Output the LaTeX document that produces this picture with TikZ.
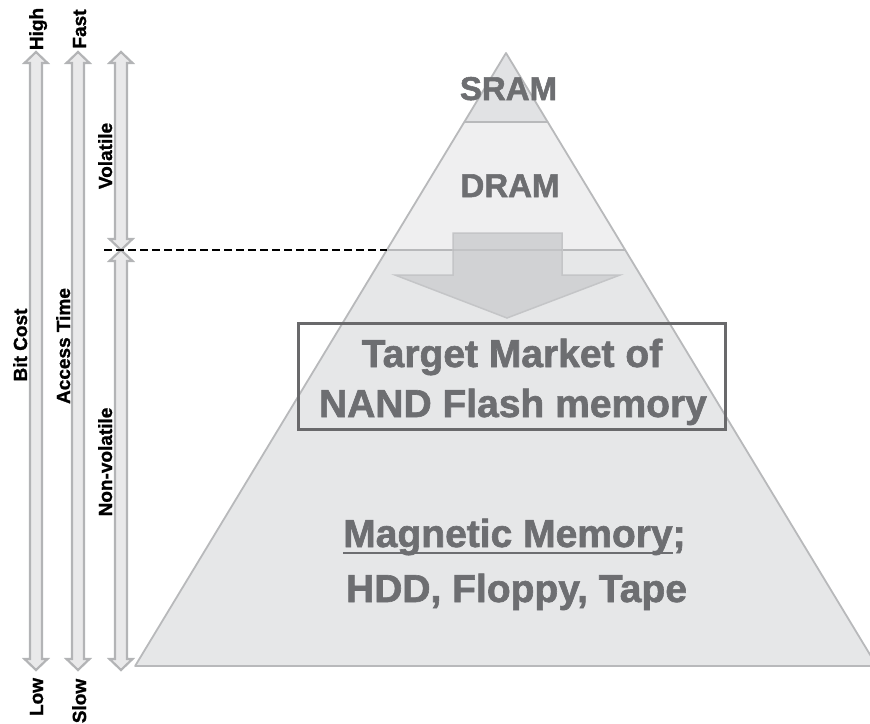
\documentclass[tikz,border=0pt]{standalone}
\usepackage{fontspec}
\setmainfont{Liberation Sans}
\newfontfamily\heavyfont{Liberation Sans Bold}[FakeBold=1.6]
\newfontfamily\lblfont{Liberation Sans Bold}[FakeBold=1.2]
\definecolor{tgray}{HTML}{6D6E71}
\definecolor{pedge}{HTML}{B8B9BB}
\definecolor{sramfill}{HTML}{E1E2E4}
\definecolor{dramfill}{HTML}{EFEFF0}
\definecolor{lowfill}{HTML}{E6E7E8}
\definecolor{arrfill}{HTML}{D1D2D4}
\definecolor{arredge}{HTML}{C4C5C7}
\definecolor{lfill}{HTML}{E9E9EA}
\definecolor{ledge}{HTML}{B3B4B6}
\definecolor{boxedge}{HTML}{69696B}
\newsavebox\myulbox
\newcommand\myul[1]{\sbox\myulbox{#1}\rlap{\rule[-7pt]{\wd\myulbox}{2pt}}\usebox\myulbox}
\newcommand\dbarrow[3]{%
 \draw[larr] (#1,#2) -- ({#1+11.5},{#2+11}) -- ({#1+6},{#2+11}) -- ({#1+6},{#3-11}) -- ({#1+11.5},{#3-11}) -- (#1,#3) -- ({#1-11.5},{#3-11}) -- ({#1-6},{#3-11}) -- ({#1-6},{#2+11}) -- ({#1-11.5},{#2+11}) -- cycle;}
\begin{document}
\begin{tikzpicture}[x=1pt,y=-1pt,
  lbl/.style={font=\lblfont\fontsize{19}{19}\selectfont, text=black, inner sep=0pt, rotate=90, anchor=base},
  big/.style={font=\heavyfont\fontsize{39}{39}\selectfont, text=tgray, inner sep=0pt, anchor=base},
  mid/.style={font=\heavyfont\fontsize{33}{33}\selectfont, text=tgray, inner sep=0pt, anchor=base},
  larr/.style={fill=lfill, draw=ledge, line width=2.2pt, line join=miter},
  band/.style={draw=pedge, line width=1.8pt, line join=round},
  bigarrow/.style={fill=arrfill, draw=arredge, line width=1.5pt, line join=miter}]
\useasboundingbox (0,0) rectangle (870,723);
\clip (0,0) rectangle (870,723);
% pyramid
\coordinate (apex) at (506,53);
\coordinate (sl) at (464.3,122);
\coordinate (sr) at (547.7,122);
\coordinate (dl) at (386.8,250);
\coordinate (dr) at (625.2,250);
\coordinate (bl) at (135.1,666);
\coordinate (br) at (876.9,666);
\path[band, fill=lowfill] (dl) -- (dr) -- (br) -- (bl) -- cycle;
\path[band, fill=dramfill] (sl) -- (sr) -- (dr) -- (dl) -- cycle;
\path[band, fill=sramfill] (apex) -- (sr) -- (sl) -- cycle;
% big down arrow
\draw[bigarrow] (453,233) -- (562,233) -- (562,275) -- (620,275) -- (507,318) -- (395,275) -- (453,275) -- cycle;
\draw[pedge, line width=1.2pt, opacity=0.6] (453,250) -- (562,250);
% target box
\node[draw=boxedge, line width=3pt, minimum width=427pt, minimum height=106pt, inner sep=0pt] (box) at (511.5,376) {};
% texts
\node[mid] (sram) at (508.5,100) {SRAM};
\node[mid] (dram) at (510,197) {DRAM};
\node[big] (tgt1) at (512,367) {Target Market of};
\node[big] (tgt2) at (513,417) {NAND Flash memory};
\node[big] (mag1) at (514.5,547) {\myul{Magnetic Memory};};
\node[big] (mag2) at (516.5,602) {HDD, Floppy, Tape};
% left arrows
\dbarrow{36}{52}{670}
\dbarrow{78}{52}{670}
\dbarrow{121}{52}{250}
\dbarrow{121}{250}{670}
% dashed line
\coordinate (dashL) at (104,250);
\draw[black, line width=1.8pt, dash pattern=on 8pt off 4pt] (dashL) -- (dl);
% labels
\node[lbl] (high) at (43,29) {High};
\node[lbl] (fast) at (86,29) {Fast};
\node[lbl] (low) at (43,697) {Low};
\node[lbl] (slow) at (86,701) {Slow};
\node[lbl] (bitcost) at (27,345) {Bit Cost};
\node[lbl] (access) at (70,346) {Access Time};
\node[lbl] (vol) at (112,156) {Volatile};
\node[lbl] (nonvol) at (112,462) {Non-volatile};
\end{tikzpicture}
\end{document}
